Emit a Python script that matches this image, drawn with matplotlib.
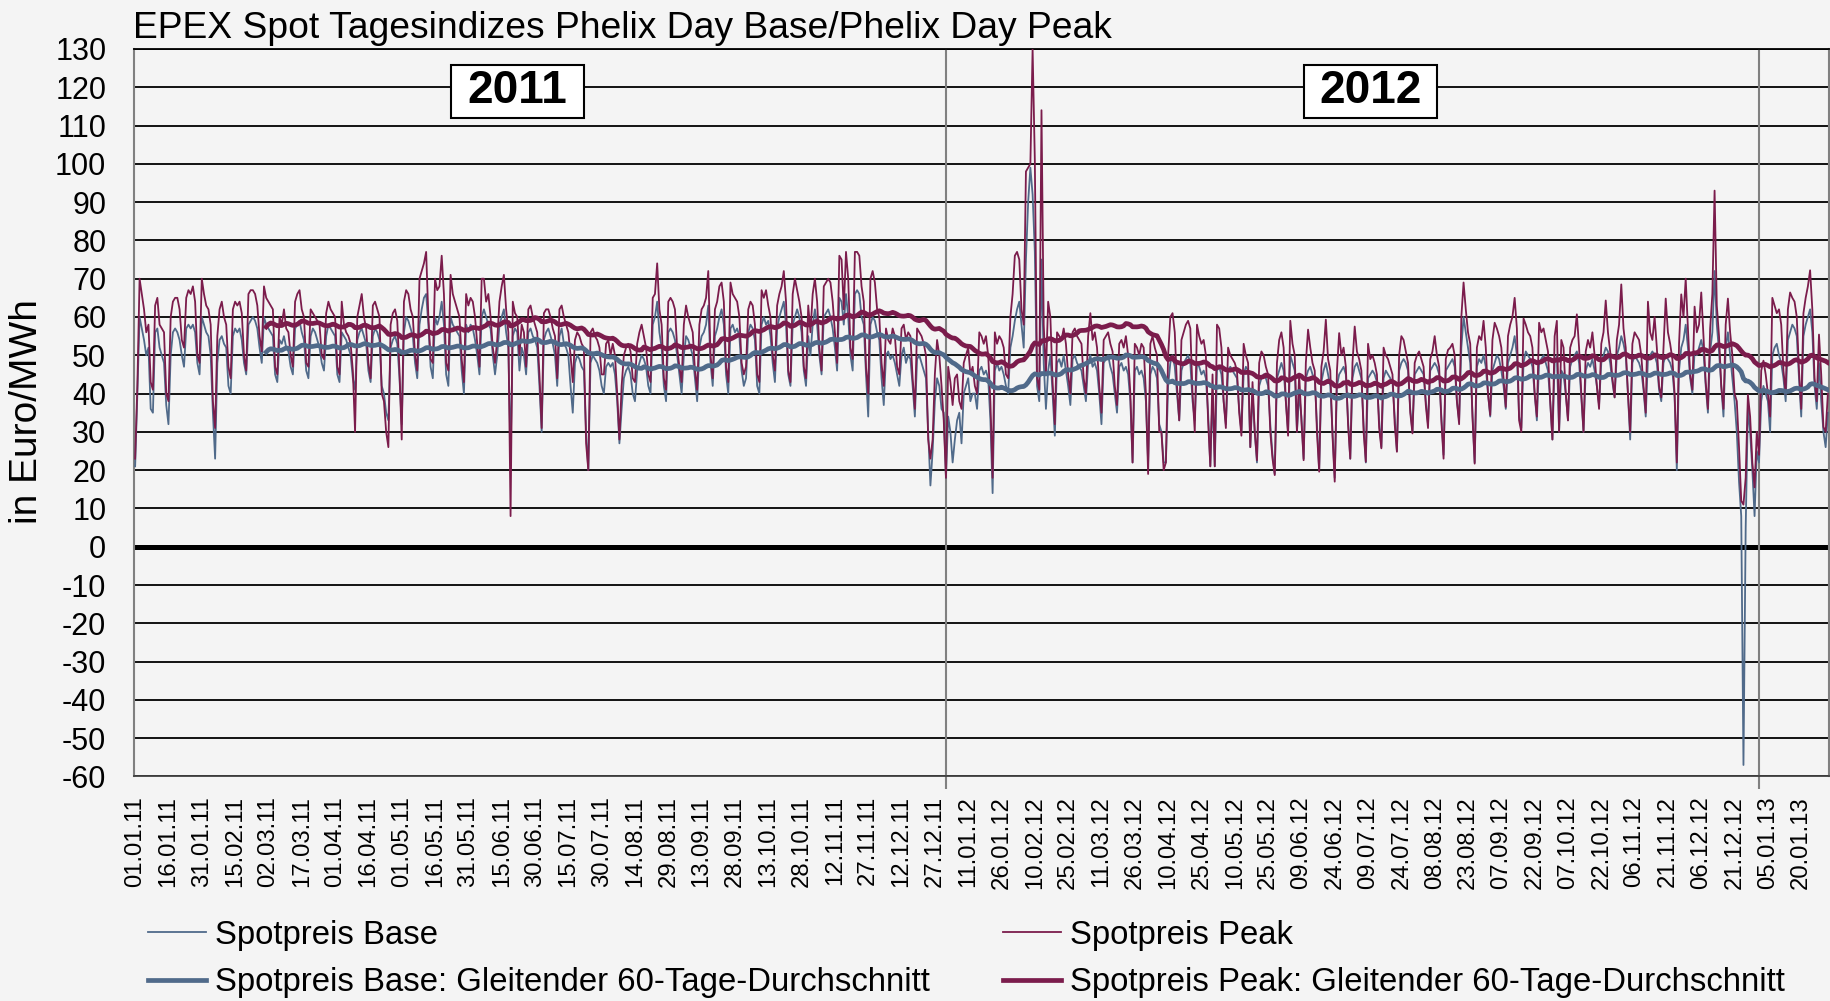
import numpy as np
import pandas as pd
import matplotlib
matplotlib.use('Agg')
import matplotlib.pyplot as plt
from matplotlib.patches import Rectangle
from matplotlib.lines import Line2D

# Tageswerte in Euro/MWh, eine Zeile pro Woche (Sa, So, Mo, Di, Mi, Do, Fr),
# erste Zeile beginnt am Samstag 01.01.2011
start_date = '2011-01-01'
base_weeks = [
    [21, 40, 60, 57, 54, 50, 52], [36, 35, 56, 57, 52, 50, 48], [37, 32, 50, 56, 57, 56, 54],
    [50, 47, 57, 58, 57, 58, 56], [48, 45, 60, 58, 56, 55, 50], [35, 23, 48, 54, 55, 53, 52],
    [42, 40, 55, 57, 56, 57, 54], [48, 45, 58, 59, 60, 59, 57], [52, 48, 60, 58, 57, 56, 55],
    [45, 43, 54, 53, 55, 52, 51], [47, 45, 57, 58, 59, 56, 54], [46, 44, 55, 57, 56, 54, 52],
    [48, 46, 55, 58, 57, 56, 55], [45, 43, 56, 55, 54, 52, 50], [44, 41, 54, 56, 57, 55, 53],
    [46, 43, 55, 57, 56, 54, 42], [40, 35, 33, 52, 54, 55, 53], [44, 32, 56, 60, 59, 57, 55],
    [48, 44, 58, 62, 65, 66, 58], [47, 44, 60, 58, 60, 64, 58], [45, 42, 60, 58, 57, 56, 55],
    [46, 40, 58, 56, 58, 57, 54], [50, 45, 60, 62, 60, 58, 57], [50, 45, 50, 58, 60, 62, 56],
    [52, 24, 55, 57, 56, 46, 52], [50, 45, 56, 57, 55, 54, 52], [42, 30, 54, 56, 57, 55, 53],
    [50, 42, 55, 57, 53, 52, 50], [42, 35, 48, 50, 49, 47, 46], [30, 20, 48, 50, 49, 48, 46],
    [42, 40, 47, 48, 47, 48, 45], [38, 27, 36, 44, 46, 47, 45], [40, 38, 46, 48, 50, 49, 47],
    [42, 40, 58, 60, 64, 56, 52], [42, 38, 56, 57, 56, 54, 50], [45, 40, 50, 55, 54, 52, 50],
    [44, 38, 52, 55, 56, 58, 63], [48, 42, 55, 57, 60, 62, 58], [45, 40, 57, 58, 56, 57, 55],
    [46, 42, 44, 56, 58, 57, 54], [42, 40, 58, 60, 58, 59, 55], [48, 43, 57, 60, 62, 64, 58],
    [45, 42, 58, 60, 62, 60, 56], [46, 42, 55, 50, 58, 62, 58], [50, 45, 60, 61, 62, 60, 57],
    [52, 46, 65, 64, 58, 66, 60], [50, 46, 66, 67, 66, 60, 58], [45, 34, 58, 60, 59, 56, 54],
    [44, 37, 50, 51, 49, 50, 48], [45, 42, 50, 52, 48, 50, 49], [42, 34, 49, 50, 48, 46, 44],
    [30, 16, 25, 38, 44, 42, 36], [35, 18, 34, 30, 22, 28, 33], [35, 27, 40, 42, 44, 38, 40],
    [40, 36, 46, 47, 45, 46, 44], [33, 14, 46, 48, 46, 47, 45], [42, 40, 52, 55, 59, 62, 64],
    [58, 52, 75, 90, 99, 92, 77], [42, 38, 75, 48, 36, 46, 50], [40, 29, 48, 49, 47, 50, 46],
    [42, 37, 49, 50, 48, 47, 46], [42, 38, 48, 50, 47, 48, 46], [40, 32, 48, 49, 50, 47, 45],
    [40, 35, 47, 48, 46, 47, 45], [38, 22, 46, 47, 45, 46, 44], [38, 22, 45, 47, 46, 44, 32],
    [30, 22, 22, 42, 48, 50, 47], [40, 33, 46, 48, 49, 50, 48], [38, 33, 48, 47, 45, 46, 44],
    [35, 21, 40, 21, 46, 47, 45], [38, 32, 46, 47, 46, 45, 44], [36, 30, 45, 47, 46, 26, 40],
    [30, 22, 42, 44, 45, 44, 42], [32, 24, 19, 44, 46, 48, 46], [38, 30, 50, 48, 46, 30, 40],
    [34, 23, 44, 46, 47, 45, 44], [32, 20, 43, 46, 48, 45, 42], [30, 18, 42, 45, 46, 47, 45],
    [33, 23, 44, 47, 48, 46, 44], [32, 22, 44, 45, 46, 45, 43], [33, 26, 44, 46, 45, 44, 43],
    [34, 25, 46, 48, 49, 48, 46], [36, 30, 45, 46, 47, 46, 45], [38, 32, 46, 47, 48, 47, 45],
    [34, 24, 46, 47, 48, 49, 47], [38, 33, 52, 60, 56, 52, 48], [35, 22, 47, 49, 48, 50, 47],
    [40, 34, 46, 48, 50, 49, 46], [42, 36, 48, 50, 52, 55, 50], [34, 31, 48, 51, 50, 49, 47],
    [40, 33, 48, 49, 50, 48, 46], [38, 28, 48, 50, 30, 46, 45], [40, 33, 47, 49, 50, 51, 48],
    [39, 30, 46, 48, 47, 49, 46], [42, 37, 48, 50, 52, 51, 48], [43, 39, 50, 52, 55, 53, 50],
    [40, 28, 48, 50, 49, 48, 46], [41, 34, 49, 50, 51, 50, 48], [41, 38, 48, 50, 49, 48, 46],
    [39, 20, 46, 52, 54, 58, 52], [44, 40, 51, 50, 52, 54, 51], [42, 35, 51, 56, 72, 58, 51],
    [42, 34, 52, 56, 50, 44, 38], [30, 17, 8, -57, 5, 36.5, 30], [20, 8, 25, 22, 38, 42, 40],
    [38, 30, 50, 52, 53, 50, 48], [44, 38, 54, 56, 58, 57, 55], [44, 34, 55, 58, 60, 62, 56],
    [42, 36, 48, 38, 30, 26, 35],
]
peak_weeks = [
    [23, 42, 70, 66, 62, 56, 58], [43, 41, 63, 65, 58, 57, 56], [40, 38, 60, 64, 65, 65, 62],
    [54, 52, 65, 67, 66, 68, 64], [50, 48, 70, 66, 63, 62, 58], [38, 31, 55, 62, 64, 60, 58],
    [47, 44, 62, 64, 63, 64, 61], [50, 46, 66, 67, 67, 66, 63], [55, 51, 68, 65, 64, 63, 62],
    [47, 45, 60, 58, 62, 57, 56], [50, 47, 64, 66, 67, 62, 60], [48, 47, 62, 61, 60, 59, 58],
    [50, 49, 61, 64, 62, 61, 60], [47, 45, 64, 58, 56, 55, 53], [46, 30, 60, 63, 66, 60, 57],
    [48, 44, 63, 64, 62, 60, 40], [38, 30, 26, 58, 61, 62, 59], [46, 28, 64, 67, 66, 62, 60],
    [50, 46, 70, 72, 74, 77, 60], [49, 48, 70, 67, 68, 76, 66], [48, 46, 71, 66, 64, 62, 60],
    [49, 43, 66, 63, 65, 64, 60], [53, 47, 70, 70, 64, 66, 60], [52, 48, 54, 64, 68, 71, 62],
    [56, 8, 64, 61, 60, 50, 58], [56, 47, 62, 63, 60, 58, 56], [45, 31, 61, 62, 62, 60, 57],
    [55, 44, 62, 63, 60, 58, 56], [50, 43, 54, 56, 55, 53, 52], [27, 20, 56, 57, 55, 54, 52],
    [45, 45, 53, 54, 50, 53, 50], [40, 28, 42, 50, 52, 53, 51], [44, 43, 53, 56, 58, 55, 52],
    [45, 43, 65, 66, 74, 62, 58], [44, 41, 64, 65, 64, 62, 52], [47, 43, 58, 63, 60, 58, 56],
    [46, 41, 58, 62, 63, 65, 72], [50, 44, 62, 64, 68, 69, 64], [47, 43, 69, 66, 65, 64, 60],
    [48, 45, 47, 62, 64, 63, 58], [45, 43, 67, 65, 67, 63, 60], [50, 46, 63, 66, 68, 72, 64],
    [46, 43, 66, 70, 67, 64, 60], [47, 44, 63, 56, 66, 70, 64], [52, 46, 68, 69, 70, 69, 64],
    [56, 48, 76, 75, 62, 77, 70], [52, 49, 77, 77, 76, 68, 64], [47, 40, 70, 72, 69, 62, 60],
    [48, 42, 57, 54, 53, 57, 55], [47, 45, 57, 58, 54, 56, 55], [44, 36, 57, 56, 55, 53, 50],
    [28, 23, 28, 45, 54, 50, 42], [33, 18, 47, 43, 37, 44, 45], [38, 36, 48, 50, 52, 45, 47],
    [42, 40, 56, 55, 53, 55, 50], [38, 18, 56, 53, 55, 54, 52], [45, 44, 60, 66, 76, 77, 75],
    [62, 58, 98, 99, 100, 130, 101], [44, 41, 114, 58, 45, 64, 60], [43, 32, 56, 55, 54, 57, 53],
    [45, 40, 56, 57, 55, 54, 53], [44, 40, 55, 61, 54, 56, 52], [42, 35, 54, 55, 56, 53, 51],
    [42, 37, 53, 54, 52, 55, 50], [40, 22, 53, 52, 50, 53, 52], [40, 19, 53, 55, 52, 50, 30],
    [30, 20, 22, 50, 60, 61, 56], [42, 33, 54, 56, 58, 59, 57], [40, 30, 58, 55, 53, 54, 50],
    [33, 21, 45, 21, 58, 57, 52], [38, 31, 52, 50, 49, 48, 46], [35, 29, 53, 50, 48, 26, 43],
    [30, 22.6, 48, 51, 50, 47, 45], [30, 23, 18.7, 48, 54, 56, 52], [38, 29, 59, 53, 50, 30, 45],
    [33, 22.6, 48, 56.7, 52, 48, 46], [30, 19.6, 47, 51, 59.3, 49, 46], [29, 17, 46, 55.8, 50, 52, 47],
    [32, 23, 48, 57.5, 51, 49, 46], [30, 22.2, 53, 49, 50, 48, 45], [31, 25.7, 52, 50, 49, 47, 45],
    [32, 24.8, 50, 55, 54, 51, 48], [35, 29.6, 48, 50, 51, 49, 47], [37, 31, 49, 51, 55, 50, 47],
    [33, 23, 49, 51.4, 52, 53, 50], [38, 32, 60, 69, 62, 56, 53], [34, 21.7, 52, 55, 54, 59, 52],
    [40, 34.4, 54, 58.5, 57, 55, 52], [44, 36.5, 55, 58, 60, 65, 57], [33, 30, 59.6, 58, 56, 55, 52],
    [40, 34, 58.5, 56, 57, 54, 51], [38, 28, 55, 59, 30, 54, 52], [40, 33, 52, 54, 55, 60.7, 52],
    [40, 30, 51, 54, 52, 56, 50], [42, 36, 53, 56, 64.3, 56, 51], [44, 39, 54, 58, 68.5, 57, 52],
    [40, 30, 53, 56, 55, 54, 50], [42, 35, 64, 56, 54, 60, 52], [42, 39, 52, 64.8, 56, 53, 49],
    [40, 22, 53, 65.9, 60, 70, 57], [45, 41, 62.7, 56, 58, 66.4, 55], [43, 36, 57, 66, 93, 63, 55],
    [42, 36, 58, 64.8, 56, 50, 40], [38, 26, 12, 11, 18, 39.7, 34], [22, 15.5, 30, 24, 46, 48.6, 45],
    [40, 34, 65, 63, 61, 62, 58], [46, 40, 62, 66.4, 65, 64, 60], [46, 36, 61, 65, 68, 72.2, 62],
    [44, 38, 55.4, 45, 31.3, 30, 40],
]
year_labels = ['2011', '2012']
year_label_x = [172, 556]   # Tagesindex der Beschriftungsmitte

BASE_COL = '#506a8a'
PEAK_COL = '#7b1c4c'
BG = '#f4f4f4'

plt.rcParams['font.family'] = ['Liberation Sans', 'DejaVu Sans']
plt.rcParams['axes.unicode_minus'] = False

base = np.array(base_weeks, dtype=float).ravel()
peak = np.array(peak_weeks, dtype=float).ravel()
days = pd.date_range(start_date, periods=len(base), freq='D')
x = np.arange(len(base))
base_ma = pd.Series(base).rolling(60).mean()
peak_ma = pd.Series(peak).rolling(60).mean()

fig = plt.figure(figsize=(18.31, 10.01), dpi=100)
fig.patch.set_facecolor(BG)
ax = fig.add_axes([0.0732, 0.2243, 0.9257, 0.7268])
ax.set_facecolor(BG)

ax.plot(x, base, color=BASE_COL, lw=1.3, zorder=3)
ax.plot(x, peak, color=PEAK_COL, lw=1.3, zorder=3)
ax.plot(x, base_ma, color=BASE_COL, lw=3.4, zorder=4)
ax.plot(x, peak_ma, color=PEAK_COL, lw=3.4, zorder=4)

ax.set_xlim(-0.5, len(base) - 0.5)
ax.set_ylim(-60, 130)
ax.set_yticks(np.arange(-60, 131, 10))
ax.yaxis.grid(True, color='black', lw=1.3)
ax.set_axisbelow(True)
ax.axhline(0, color='black', lw=3.6, zorder=2)

ax.set_xticks(x[::15])
ax.set_xticklabels(days[::15].strftime('%d.%m.%y'), rotation=90, fontsize=17.2)
ax.tick_params(axis='x', which='major', length=0, pad=14)
ax.tick_params(axis='y', length=0, pad=20, labelsize=22)

# Jahreswechsel
year_starts = [i for i, d in enumerate(days) if d.month == 1 and d.day == 1 and i > 0]
ax.set_xticks(year_starts, minor=True)
ax.tick_params(axis='x', which='minor', length=9, width=1.5, color='#808080')
for ys in year_starts:
    ax.axvline(ys, color='#808080', lw=1.5, zorder=2)

for side in ['left', 'right']:
    ax.spines[side].set_color('#808080')
    ax.spines[side].set_linewidth(1.5)
ax.spines['top'].set_color('black')
ax.spines['top'].set_linewidth(1.3)
ax.spines['bottom'].set_color('#404040')
ax.spines['bottom'].set_linewidth(1.3)

for lab, cx in zip(year_labels, year_label_x):
    ax.add_patch(Rectangle((cx - 30, 112), 60, 13.9, facecolor='white',
                           edgecolor='black', lw=1.5, zorder=6))
    ax.text(cx, 119, lab, ha='center', va='center', fontsize=33,
            fontweight='bold', zorder=7)

fig.text(0.0726, 0.9625, 'EPEX Spot Tagesindizes Phelix Day Base/Phelix Day Peak',
         fontsize=26.85, va='baseline', ha='left')
fig.text(0.0147, 0.589, 'in Euro/MWh', rotation=90, fontsize=28,
         va='center', ha='center')

handles = [Line2D([], [], color=BASE_COL, lw=1.3),
           Line2D([], [], color=BASE_COL, lw=3.4),
           Line2D([], [], color=PEAK_COL, lw=1.3),
           Line2D([], [], color=PEAK_COL, lw=3.4)]
labels = ['Spotpreis Base', 'Spotpreis Base: Gleitender 60-Tage-Durchschnitt',
          'Spotpreis Peak', 'Spotpreis Peak: Gleitender 60-Tage-Durchschnitt']
fig.legend(handles, labels, loc='upper left', bbox_to_anchor=(0.072, 0.0974),
           ncol=2, frameon=False, fontsize=23.7, borderpad=0, handlelength=1.76,
           handletextpad=0.28, columnspacing=2.2, labelspacing=0.5)

fig.savefig('out.png', dpi=100, facecolor=fig.get_facecolor())
